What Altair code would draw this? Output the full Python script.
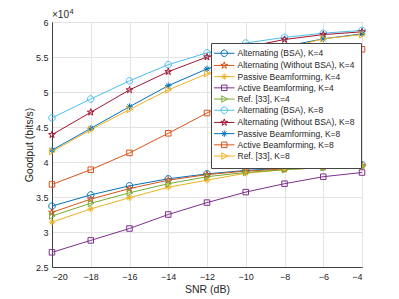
import altair as alt
import pandas as pd

snr = [-20, -18, -16, -14, -12, -10, -8, -6, -4]

names = [
    "Alternating (BSA), K=4",
    "Alternating (Without BSA), K=4",
    "Passive Beamforming, K=4",
    "Active Beamforming, K=4",
    "Ref. [33], K=4",
    "Alternating (BSA), K=8",
    "Alternating (Without BSA), K=8",
    "Passive Beamforming, K=8",
    "Active Beamforming, K=8",
    "Ref. [33], K=8",
]

# goodput values in units of 1e4 bits/s
alt_bsa_k4 = [3.37, 3.53, 3.66, 3.76, 3.83, 3.88, 3.91, 3.93, 3.96]
alt_nobsa_k4 = [3.28, 3.47, 3.62, 3.74, 3.82, 3.87, 3.90, 3.93, 3.95]
passive_k4 = [3.14, 3.33, 3.49, 3.64, 3.74, 3.84, 3.89, 3.92, 3.94]
active_k4 = [2.71, 2.88, 3.05, 3.25, 3.42, 3.57, 3.69, 3.79, 3.85]
ref_k4 = [3.23, 3.41, 3.56, 3.69, 3.79, 3.85, 3.89, 3.92, 3.94]
alt_bsa_k8 = [4.63, 4.90, 5.16, 5.39, 5.56, 5.70, 5.78, 5.84, 5.88]
alt_nobsa_k8 = [4.39, 4.71, 5.03, 5.29, 5.50, 5.64, 5.75, 5.82, 5.86]
passive_k8 = [4.17, 4.48, 4.79, 5.09, 5.33, 5.50, 5.65, 5.76, 5.83]
active_k8 = [3.68, 3.89, 4.13, 4.41, 4.70, 5.00, 5.24, 5.44, 5.61]
ref_k8 = [4.15, 4.46, 4.75, 5.03, 5.26, 5.45, 5.62, 5.76, 5.82]

series_values = [alt_bsa_k4, alt_nobsa_k4, passive_k4, active_k4, ref_k4,
                 alt_bsa_k8, alt_nobsa_k8, passive_k8, active_k8, ref_k8]

colors = ["#0072BD", "#D95319", "#EDB120", "#7E2F8E", "#77AC30",
          "#4DBEEE", "#A2142F", "#0072BD", "#D95319", "#EDB120"]

y_ticks = [2.5, 3, 3.5, 4, 4.5, 5, 5.5, 6]

CIRCLE = "M1,0A1,1 0 1,1 -1,0A1,1 0 1,1 1,0Z"
STAR = ("M0,-1.1L0.25,-0.34L1.05,-0.34L0.4,0.13L0.65,0.89L0,0.42"
        "L-0.65,0.89L-0.4,0.13L-1.05,-0.34L-0.25,-0.34Z")
AST = "M-1,0L1,0M0,-1L0,1M-0.7,-0.7L0.7,0.7M-0.7,0.7L0.7,-0.7"
SQUARE = "M-0.85,-0.85L0.85,-0.85L0.85,0.85L-0.85,0.85Z"
TRI = "M-0.75,-1L1,0L-0.75,1Z"
marker_kinds = [CIRCLE, STAR, AST, SQUARE, TRI, CIRCLE, STAR, AST, SQUARE, TRI]
LINE = "M-3.15,0L3.15,0"
legend_paths = [LINE + m for m in marker_kinds]

rows = []
for name, vals in zip(names, series_values):
    for s, v in zip(snr, vals):
        rows.append({"snr": s, "goodput": v * 1e4, "series": name})
df = pd.DataFrame(rows)

x = alt.X("snr:Q", scale=alt.Scale(domain=[-20, -4], nice=False, zero=False),
          axis=alt.Axis(values=snr, title="SNR (dB)", titlePadding=3, labelPadding=5))
y = alt.Y("goodput:Q", scale=alt.Scale(domain=[25000, 60000], nice=False, zero=False),
          axis=alt.Axis(values=[v * 1e4 for v in y_ticks], labelExpr="datum.value/10000",
                        title="Goodput (bits/s)", titlePadding=1, labelPadding=4))

color_scale = alt.Scale(domain=names, range=colors)

base = alt.Chart(df)
lines = base.mark_line(strokeWidth=1).encode(
    x=x, y=y,
    color=alt.Color("series:N", scale=color_scale, legend=None),
)
points = base.mark_point(filled=False, size=42, strokeWidth=1, opacity=1).encode(
    x=x, y=y,
    color=alt.Color("series:N", scale=color_scale, legend=None),
    shape=alt.Shape("series:N", scale=alt.Scale(domain=names, range=marker_kinds), legend=None),
)
main = alt.layer(lines, points)

legend_layer = base.mark_point(filled=False, size=42, strokeWidth=1, opacity=1).encode(
    x=x, y=y,
    color=alt.Color("series:N", scale=alt.Scale(domain=names, range=colors),
                    legend=alt.Legend(title=None)),
    shape=alt.Shape("series:N", scale=alt.Scale(domain=names, range=legend_paths),
                    legend=alt.Legend(title=None)),
).transform_filter("false")

exp_text = alt.Chart(pd.DataFrame({"t": ["×10"]})).mark_text(
    align="left", baseline="alphabetic", fontSize=10, font="Liberation Sans", color="#262626"
).encode(x=alt.value(0), y=alt.value(-4), text="t:N")
exp_sup = alt.Chart(pd.DataFrame({"t": ["4"]})).mark_text(
    align="left", baseline="alphabetic", fontSize=7.5, font="Liberation Sans", color="#262626"
).encode(x=alt.value(17.5), y=alt.value(-8), text="t:N")

chart = alt.layer(main, legend_layer, exp_text, exp_sup).resolve_scale(
    color="independent", shape="independent"
).properties(
    width=310, height=245,
    padding={"left": 44, "top": 14, "right": 29, "bottom": 29},
    autosize=alt.AutoSizeParams(type="none"),
).configure_view(
    stroke="#404040", strokeWidth=1
).configure_axis(
    domainColor="#404040", gridColor="#e3e3e3", gridWidth=1, ticks=False,
    labelFont="Liberation Sans", labelFontSize=9, labelColor="#262626",
    titleFont="Liberation Sans", titleFontSize=10.5, titleColor="#262626", titleFontWeight="normal",
).configure_legend(
    orient="none", legendX=159, legendY=21,
    strokeColor="#444444", fillColor="white", padding=6, cornerRadius=0,
    labelFont="Liberation Sans", labelFontSize=8.5, labelColor="#262626",
    symbolSize=42, symbolStrokeWidth=1, symbolOffset=3, labelOffset=9,
    rowPadding=0.2, labelLimit=300,
)

chart.save("out.html", embed_options={"renderer": "svg", "actions": False})
